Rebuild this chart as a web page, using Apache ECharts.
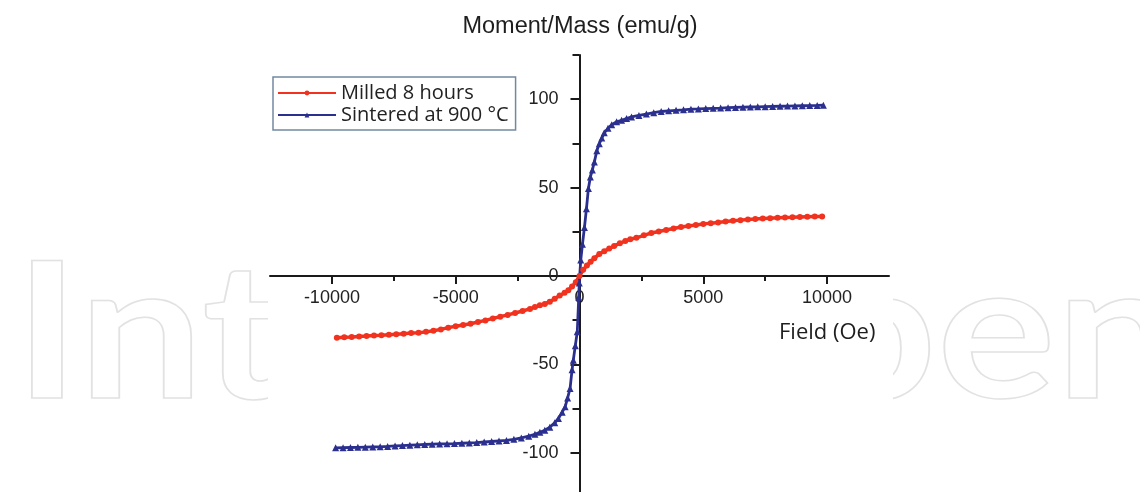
<!DOCTYPE html>
<html><head><meta charset="utf-8">
<script src="https://cdn.jsdelivr.net/npm/echarts@6/dist/echarts.min.js"></script>
<style>html,body{margin:0;padding:0;background:#fff}#c{width:1140px;height:492px}</style>
</head><body><div id="c"></div>
<script>
const seriesNames = ['Milled 8 hours', 'Sintered at 900 °C'];
const milledField = [-9800,-9500,-9200,-8900,-8600,-8300,-8000,-7700,-7400,-7100,-6800,-6500,-6200,-5900,-5600,-5300,-5000,-4700,-4400,-4100,-3800,-3500,-3200,-2900,-2600,-2300,-2000,-1800,-1600,-1400,-1200,-1000,-800,-600,-450,-300,-150,0,150,300,450,600,800,1000,1200,1400,1630,1850,2050,2300,2600,2900,3200,3500,3800,4100,4400,4700,5000,5300,5600,5900,6200,6500,6800,7100,7400,7700,8000,8300,8600,8900,9200,9500,9800];
const milledMoment = [-34.9,-34.7,-34.5,-34.2,-34.0,-33.7,-33.5,-33.2,-32.9,-32.6,-32.3,-32.1,-31.6,-31.0,-30.2,-29.2,-28.4,-27.7,-27.0,-26.0,-25.1,-24.0,-23.0,-22.0,-20.9,-19.8,-18.6,-17.6,-16.6,-15.8,-14.5,-12.8,-11.0,-9.5,-8.0,-6.0,-3.5,0.0,3.5,6.0,8.0,10.0,12.5,14.0,15.5,17.0,18.5,19.8,20.8,21.6,23.0,24.3,25.2,26.0,26.9,27.7,28.3,28.9,29.4,29.9,30.3,30.8,31.2,31.6,32.0,32.2,32.5,32.7,32.9,33.1,33.2,33.4,33.5,33.6,33.7];
const sinteredField = [-9850,-9550,-9250,-8950,-8650,-8350,-8050,-7750,-7450,-7150,-6850,-6550,-6250,-5950,-5650,-5350,-5050,-4750,-4450,-4150,-3850,-3550,-3250,-2950,-2650,-2350,-2050,-1800,-1600,-1400,-1200,-1000,-850,-700,-580,-480,-380,-300,-250,-170,-90,-30,-10,50,120,200,280,360,440,520,600,700,800,900,1000,1150,1300,1500,1700,1900,2100,2400,2700,3000,3300,3600,3900,4200,4500,4800,5100,5400,5700,6000,6300,6600,6900,7200,7500,7800,8100,8400,8700,9000,9300,9600,9850];
const sinteredMoment = [-97.2,-97.1,-97.0,-96.9,-96.8,-96.7,-96.6,-96.4,-96.1,-95.9,-95.7,-95.5,-95.3,-95.1,-95.0,-94.9,-94.8,-94.6,-94.4,-94.2,-93.9,-93.6,-93.3,-93.0,-92.4,-91.6,-90.6,-89.5,-88.4,-87.2,-85.5,-83.0,-80.6,-77.0,-74.0,-69.0,-63.6,-53.0,-47.6,-39.5,-31.5,-12.0,-4.0,9.0,18.0,27.5,38.0,49.5,56.0,60.0,64.5,70.8,74.8,78.0,81.0,83.5,85.6,87.2,88.1,89.1,90.0,90.8,91.6,92.4,93.05,93.4,93.7,94.0,94.35,94.5,94.7,94.85,95.0,95.2,95.35,95.5,95.6,95.7,95.8,95.9,96.0,96.1,96.2,96.3,96.4,96.5,96.6];
const xMajorTicks = [-10000, -5000, 0, 5000, 10000];
const xMinorTicks = [-7500, -2500, 2500, 7500];
const yMajorTicks = [-100, -50, 0, 50, 100];
const yMinorTicks = [-75, -25, 25, 75, 125];
const yTitle = 'Moment/Mass (emu/g)';
const xTitle = 'Field (Oe)';
const watermark = 'IntechOpen';

const RED = '#f0321f', BLUE = '#2b2f8e', AX = '#1a1a1a';
const X_MIN = -12500, X_MAX = 12500, Y_MIN = -125, Y_MAX = 125;
const G = {left: 270, top: 55, width: 619, height: 442};
// axes drawn through the origin: shift them from the grid edge to the zero line
const xOff = -(G.height * (0 - Y_MIN) / (Y_MAX - Y_MIN));
const yOff = -(G.width * (0 - X_MIN) / (X_MAX - X_MIN));
const chart = echarts.init(document.getElementById('c'), null, {renderer: 'canvas'});
const lblFont = {fontFamily: 'Liberation Sans', fontSize: 18, color: '#222'};
const tickStyle = {color: AX, width: 2};
chart.setOption({
  backgroundColor: '#fff',
  animation: false,
  grid: Object.assign({containLabel: false, outerBoundsMode: 'none'}, G),
  xAxis: [
    {type: 'value', position: 'bottom', offset: xOff, min: X_MIN, max: X_MAX, interval: 2500,
     axisLine: {onZero: false, lineStyle: {color: AX, width: 2}},
     axisTick: {customValues: xMajorTicks, length: 8, lineStyle: tickStyle},
     axisLabel: Object.assign({customValues: xMajorTicks, margin: 13, formatter: v => String(v)}, lblFont),
     splitLine: {show: false}},
    {type: 'value', position: 'bottom', offset: xOff, min: X_MIN, max: X_MAX, interval: 2500,
     axisLine: {show: false, onZero: false},
     axisTick: {customValues: xMinorTicks, length: 5, lineStyle: tickStyle},
     axisLabel: {show: false}, splitLine: {show: false}}
  ],
  yAxis: [
    {type: 'value', position: 'left', offset: yOff, min: Y_MIN, max: Y_MAX, interval: 25,
     axisLine: {onZero: false, lineStyle: {color: AX, width: 2}},
     axisTick: {customValues: yMajorTicks, length: 9, lineStyle: tickStyle},
     axisLabel: Object.assign({customValues: yMajorTicks, margin: 21, formatter: v => String(v)}, lblFont),
     splitLine: {show: false}},
    {type: 'value', position: 'left', offset: yOff, min: Y_MIN, max: Y_MAX, interval: 25,
     axisLine: {show: false, onZero: false},
     axisTick: {customValues: yMinorTicks, length: 7, lineStyle: tickStyle},
     axisLabel: {show: false}, splitLine: {show: false}}
  ],
  legend: {
    orient: 'vertical', left: 273, top: 77, padding: [5, 7, 4, 4], itemGap: 0,
    itemWidth: 58, itemHeight: 6, borderColor: '#7189a0', borderWidth: 1.5, backgroundColor: '#fff',
    textStyle: {fontFamily: 'Open Sans', fontSize: 20, color: '#222', lineHeight: 22},
    data: seriesNames
  },
  graphic: [
    {type: 'text', z: -10, x: 14, y: 337, scaleX: 1.17,
     style: {text: watermark, fontFamily: 'Lato', fontWeight: 700, fontSize: 190, fill: 'rgba(0,0,0,0)',
             stroke: '#e2e2e2', lineWidth: 1.5, verticalAlign: 'middle'}},
    {type: 'rect', z: -5, shape: {x: 268, y: 0, width: 625, height: 492}, style: {fill: '#fff'}},
    {type: 'text', x: 580, y: 27,
     style: {text: yTitle, fontFamily: 'Liberation Sans', fontSize: 23.5, fill: '#1e1e1e', align: 'center', verticalAlign: 'middle'}},
    {type: 'text', x: 779, y: 333,
     style: {text: xTitle, fontFamily: 'Open Sans', fontSize: 22, fill: '#1e1e1e', verticalAlign: 'middle'}}
  ],
  series: [
    {name: seriesNames[0], type: 'line', xAxisIndex: 0, yAxisIndex: 0,
     data: milledField.map((h, i) => [h, milledMoment[i]]),
     symbol: 'circle', symbolSize: 6, showAllSymbol: true,
     lineStyle: {color: RED, width: 3.5}, itemStyle: {color: RED}},
    {name: seriesNames[1], type: 'line', xAxisIndex: 0, yAxisIndex: 0,
     data: sinteredField.map((h, i) => [h, sinteredMoment[i]]),
     symbol: 'triangle', symbolSize: 7, showAllSymbol: true,
     lineStyle: {color: BLUE, width: 2.8}, itemStyle: {color: BLUE}}
  ]
});
</script></body></html>
